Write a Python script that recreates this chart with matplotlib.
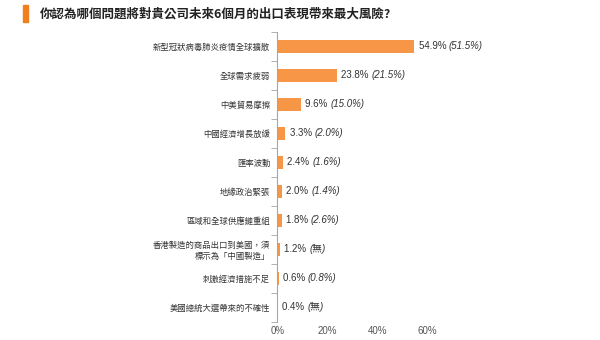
import matplotlib.pyplot as plt
import numpy as np
from matplotlib.patches import Rectangle

plt.rcParams['font.family'] = ['Noto Sans CJK TC', 'DejaVu Sans']

# 問題類別與數值
categories = [
    "新型冠狀病毒肺炎疫情全球擴散",
    "全球需求疲弱",
    "中美貿易摩擦",
    "中國經濟增長放緩",
    "匯率波動",
    "地緣政治緊張",
    "區域和全球供應鏈重組",
    "香港製造的商品出口到美國，須\n標示為「中國製造」",
    "刺激經濟措施不足",
    "美國總統大選帶來的不確性",
]
values = [54.9, 23.8, 9.6, 3.3, 2.4, 2.0, 1.8, 1.2, 0.6, 0.4]
previous = ["(51.5%)", "(21.5%)", "(15.0%)", "(2.0%)", "(1.6%)",
            "(1.4%)", "(2.6%)", "(無)", "(0.8%)", "(無)"]
xticks = [0, 20, 40, 60]

bar_color = '#F79646'
text_color = '#333333'
axis_color = '#A6A6A6'
num_font = ['Liberation Sans', 'Noto Sans CJK TC']

fig = plt.figure(figsize=(6, 3.4), dpi=100)
ax = fig.add_axes([0.462, 0.054, 0.25, 0.853])

y = np.arange(len(categories))
ax.barh(y, values, height=0.45, color=bar_color)
ax.set_ylim(len(categories) - 0.5, -0.5)
ax.set_xlim(0, 60)

# 數值標籤：本期正常字體，括號內上期用斜體
for yi, v, p in zip(y, values, previous):
    t1 = ax.annotate(f"{v:.1f}% ", xy=(v, yi), xytext=(3, 0),
                     textcoords='offset points', va='center', ha='left',
                     fontsize=7, color=text_color, family=num_font)
    ax.annotate(p, xy=(1, 0.5), xycoords=t1, va='center', ha='left',
                fontsize=7, color=text_color, style='italic', family=num_font)

ax.set_yticks(y)
ax.set_yticklabels(categories, fontsize=6, color=text_color)
ax.set_yticks(np.arange(len(categories) + 1) - 0.5, minor=True)
ax.tick_params(axis='y', which='major', length=0, pad=5)
ax.tick_params(axis='y', which='minor', length=4, color=axis_color)

ax.set_xticks(xticks)
ax.set_xticklabels([f"{t}%" for t in xticks], fontsize=7, color='#555555',
                   family=num_font)
ax.tick_params(axis='x', length=0, pad=3)

for s in ['top', 'right', 'bottom']:
    ax.spines[s].set_visible(False)
ax.spines['left'].set_color(axis_color)

# 標題與橙色標記
fig.patches.append(Rectangle((0.038, 0.935), 0.008, 0.05, transform=fig.transFigure,
                             color='#F07F1C'))
fig.text(0.066, 0.958, "你認為哪個問題將對貴公司未來6個月的出口表現帶來最大風險?",
         fontsize=9, color='#222222', va='center', ha='left', weight='bold')

fig.savefig('out.png', dpi=100)
